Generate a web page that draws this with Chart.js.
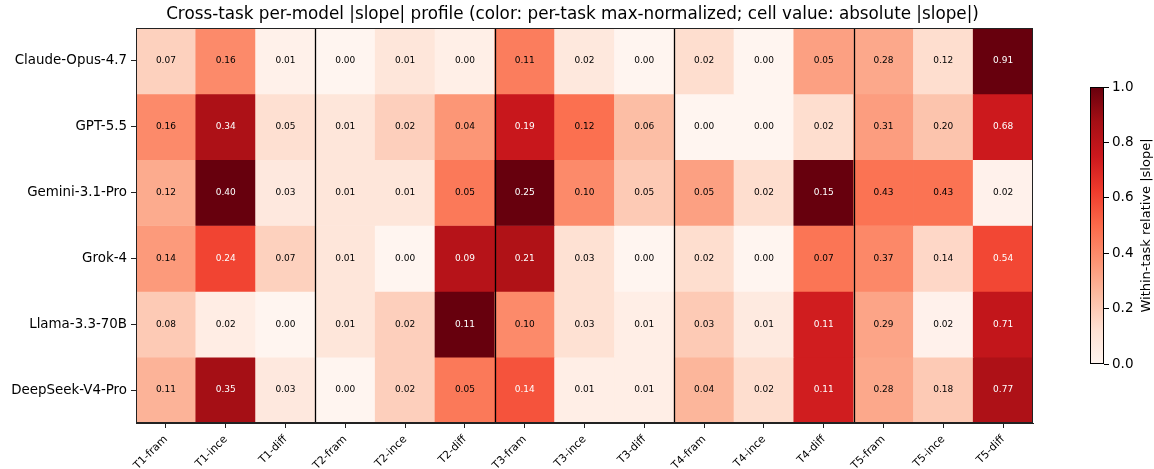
<!DOCTYPE html>
<html>
<head>
<meta charset="utf-8">
<script src="https://cdn.jsdelivr.net/npm/chart.js@4/dist/chart.umd.min.js"></script>
<style>
  body { margin: 0; background: #fff; }
  #wrap { position: relative; width: 1154px; height: 469px; }
  #heat { position: absolute; left: 0; top: 0; }
  #cbar { position: absolute; left: 1060px; top: 0; }
</style>
</head>
<body>
<div id="wrap">
  <canvas id="heat" width="1154" height="469"></canvas>
  <canvas id="cbar" width="94" height="469"></canvas>
</div>
<script>
const models = ['Claude-Opus-4.7', 'GPT-5.5', 'Gemini-3.1-Pro', 'Grok-4', 'Llama-3.3-70B', 'DeepSeek-V4-Pro'];
const columns = [
  'T1-fram', 'T1-ince', 'T1-diff',
  'T2-fram', 'T2-ince', 'T2-diff',
  'T3-fram', 'T3-ince', 'T3-diff',
  'T4-fram', 'T4-ince', 'T4-diff',
  'T5-fram', 'T5-ince', 'T5-diff',
];
const tasks = ['T1', 'T2', 'T3', 'T4', 'T5'];

// absolute |slope| per model, one value per column
const claude   = [0.07, 0.16, 0.01, 0.00, 0.01, 0.004, 0.11, 0.02, 0.00, 0.02, 0.00, 0.05, 0.28, 0.12, 0.91];
const gpt      = [0.16, 0.34, 0.05, 0.01, 0.02, 0.04, 0.19, 0.12, 0.06, 0.00, 0.00, 0.02, 0.31, 0.20, 0.68];
const gemini   = [0.12, 0.40, 0.03, 0.01, 0.01, 0.05, 0.25, 0.10, 0.05, 0.05, 0.02, 0.15, 0.43, 0.43, 0.02];
const grok     = [0.14, 0.24, 0.07, 0.01, 0.00, 0.09, 0.21, 0.03, 0.00, 0.02, 0.00, 0.07, 0.37, 0.14, 0.54];
const llama    = [0.08, 0.02, 0.00, 0.01, 0.02, 0.11, 0.10, 0.03, 0.01, 0.03, 0.01, 0.11, 0.29, 0.02, 0.71];
const deepseek = [0.11, 0.35, 0.03, 0.00, 0.02, 0.05, 0.14, 0.01, 0.01, 0.04, 0.02, 0.11, 0.28, 0.18, 0.77];
const rows = [claude, gpt, gemini, grok, llama, deepseek];

const cbarTicks = [0, 0.2, 0.4, 0.6, 0.8, 1.0];

const FONT = "'DejaVu Sans', sans-serif";
const REDS = ['#fff5f0', '#fee0d2', '#fcbba1', '#fc9272', '#fb6a4a', '#ef3b2c', '#cb181d', '#a50f15', '#67000d'];

function hexRgb(h) {
  return [parseInt(h.slice(1, 3), 16), parseInt(h.slice(3, 5), 16), parseInt(h.slice(5, 7), 16)];
}

function reds(t) {
  t = Math.max(0, Math.min(1, t));
  const p = t * (REDS.length - 1);
  const i = Math.min(Math.floor(p), REDS.length - 2);
  const f = p - i;
  const a = hexRgb(REDS[i]), b = hexRgb(REDS[i + 1]);
  const c = a.map((v, k) => Math.round(v + (b[k] - v) * f));
  return `rgb(${c[0]}, ${c[1]}, ${c[2]})`;
}

// per-task max over all models and the task's columns
const taskMax = tasks.map(t => {
  let m = 0;
  rows.forEach(r => columns.forEach((c, j) => { if (c.startsWith(t + '-')) m = Math.max(m, r[j]); }));
  return m;
});

function norm(i, j) {
  const t = tasks.indexOf(columns[j].split('-')[0]);
  return taskMax[t] > 0 ? rows[i][j] / taskMax[t] : 0;
}

const datasets = models.map((name, i) => ({
  label: name,
  data: columns.map(() => 1),
  backgroundColor: columns.map((c, j) => reds(norm(i, j))),
  borderWidth: 0,
  barPercentage: 1,
  categoryPercentage: 1,
}));

const cellPlugin = {
  id: 'cells',
  afterDatasetsDraw(chart) {
    const { ctx, chartArea, scales } = chart;
    ctx.save();
    ctx.font = `9px ${FONT}`;
    ctx.textAlign = 'center';
    ctx.textBaseline = 'middle';
    chart.data.datasets.forEach((ds, i) => {
      chart.getDatasetMeta(i).data.forEach((el, j) => {
        const p = el.getCenterPoint();
        ctx.fillStyle = norm(i, j) > 0.5 ? '#fff' : '#000';
        ctx.fillText(rows[i][j].toFixed(2), p.x, p.y);
      });
    });
    // task separators
    ctx.strokeStyle = '#000';
    ctx.lineWidth = 1.3;
    [3, 6, 9, 12].forEach(k => {
      const x = (scales.x.getPixelForValue(k - 1) + scales.x.getPixelForValue(k)) / 2;
      ctx.beginPath();
      ctx.moveTo(Math.round(x) + 0.5, chartArea.top);
      ctx.lineTo(Math.round(x) + 0.5, chartArea.bottom);
      ctx.stroke();
    });
    // frame
    ctx.strokeStyle = '#222';
    ctx.lineWidth = 1;
    ctx.strokeRect(chartArea.left + 0.5, chartArea.top + 0.5, chartArea.width - 1, chartArea.height - 1);
    // title
    ctx.fillStyle = '#000';
    ctx.font = `16.8px ${FONT}`;
    ctx.textBaseline = 'alphabetic';
    ctx.fillText('Cross-task per-model |slope| profile (color: per-task max-normalized; cell value: absolute |slope|)',
      (chartArea.left + chartArea.right) / 2 - 12, chartArea.top - 9);
    ctx.restore();
  },
};

new Chart(document.getElementById('heat'), {
  type: 'bar',
  data: { labels: columns, datasets },
  options: {
    responsive: false,
    animation: false,
    layout: { padding: { left: 0, right: 121, top: 28, bottom: 0 } },
    plugins: {
      legend: { display: false },
      tooltip: { enabled: false },
      title: { display: false },
    },
    scales: {
      x: {
        stacked: true,
        afterFit(scale) { scale.height = 46; },
        grid: { offset: false, drawOnChartArea: false, tickLength: 5, color: '#222' },
        border: { display: true, color: '#222' },
        ticks: {
          autoSkip: false,
          maxRotation: 45,
          minRotation: 45,
          padding: 5,
          color: '#000',
          font: { family: FONT, size: 10.8 },
        },
      },
      y: {
        stacked: true,
        reverse: true,
        min: 0,
        max: models.length,
        afterFit(scale) { scale.width = 136; },
        afterBuildTicks(scale) { scale.ticks = models.map((m, i) => ({ value: i + 0.5 })); },
        grid: { drawOnChartArea: false, tickLength: 5, color: '#222' },
        border: { display: true, color: '#222' },
        ticks: {
          padding: 4,
          color: '#000',
          font: { family: FONT, size: 13.4 },
          callback(value, index) { return models[index]; },
        },
      },
    },
  },
  plugins: [cellPlugin],
});

// colorbar
const cbarPlugin = {
  id: 'cbarFrame',
  afterDatasetsDraw(chart) {
    const { ctx, chartArea } = chart;
    ctx.save();
    ctx.strokeStyle = '#000';
    ctx.lineWidth = 1;
    ctx.strokeRect(chartArea.left + 0.5, chartArea.top + 0.5, chartArea.width - 1, chartArea.height - 1);
    ctx.translate(87, (chartArea.top + chartArea.bottom) / 2);
    ctx.rotate(-Math.PI / 2);
    ctx.fillStyle = '#000';
    ctx.font = `13px ${FONT}`;
    ctx.textAlign = 'center';
    ctx.textBaseline = 'middle';
    ctx.fillText('Within-task relative |slope|', 0, 0);
    ctx.restore();
  },
};

new Chart(document.getElementById('cbar'), {
  type: 'bar',
  data: {
    labels: [''],
    datasets: [{
      data: [[0, 1]],
      barPercentage: 1,
      categoryPercentage: 1,
      borderWidth: 0,
      backgroundColor(c) {
        const area = c.chart.chartArea;
        if (!area) return REDS[4];
        const g = c.chart.ctx.createLinearGradient(0, area.bottom, 0, area.top);
        REDS.forEach((col, k) => g.addColorStop(k / (REDS.length - 1), col));
        return g;
      },
    }],
  },
  options: {
    responsive: false,
    animation: false,
    layout: { padding: { left: 30, right: 0, top: 87, bottom: 105 } },
    plugins: { legend: { display: false }, tooltip: { enabled: false }, title: { display: false } },
    scales: {
      x: { display: false },
      y: {
        position: 'right',
        min: 0,
        max: 1,
        afterFit(scale) { scale.width = 50; },
        afterBuildTicks(scale) { scale.ticks = cbarTicks.map(v => ({ value: v })); },
        grid: { drawOnChartArea: false, tickLength: 5, color: '#000' },
        border: { display: false },
        ticks: {
          padding: 3,
          color: '#000',
          font: { family: FONT, size: 13.5 },
          callback(value) { return value.toFixed(1); },
        },
      },
    },
  },
  plugins: [cbarPlugin],
});
</script>
</body>
</html>
